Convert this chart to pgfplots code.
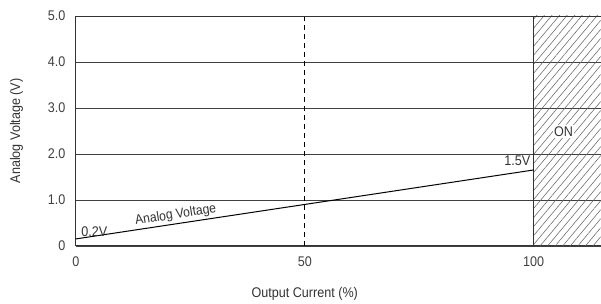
\documentclass[border=0pt]{standalone}
\usepackage{pgfplots}
\pgfplotsset{compat=1.18}
\usepackage{fontspec}
\setmainfont{Liberation Sans}[FakeStretch=0.9]
\usetikzlibrary{patterns.meta}
\begin{document}
\begin{tikzpicture}
\begin{axis}[
  name=ax,
  scale only axis,
  width=525pt, height=230pt,
  xmin=0, xmax=114.6, ymin=0, ymax=5,
  axis x line=bottom, axis y line=left,
  axis line style={-, black!80, line width=0.9pt},
  xtick={0,50,100}, ytick={0,1,2,3,4,5},
  yticklabels={0,1.0,2.0,3.0,4.0,5.0},
  major tick length=0pt,
  ymajorgrids, grid style={black!75, line width=0.6pt},
  tick label style={font=\fontsize{14}{16}\selectfont, text=black!75},
  xticklabel style={yshift=-7pt},
  yticklabel style={xshift=-7pt},
  /pgf/number format/assume math mode=true,
  xlabel={Output Current (\%)},
  ylabel={Analog Voltage (V)},
  label style={font=\fontsize{14}{16}\selectfont, text=black!80},
  xlabel style={yshift=-14pt, xshift=-33.5pt},
  ylabel style={yshift=18pt},
  clip=false,
]
\addplot[draw=none, pattern={Lines[angle=50, distance=5.8pt, line width=0.55pt]}, pattern color=black!60] coordinates {(100,0) (114.6,0) (114.6,5) (100,5)} -- cycle;
\addplot[black!80, line width=0.8pt] coordinates {(100,0) (100,5)};
\addplot[black, line width=0.9pt, dash pattern=on 5pt off 4pt] coordinates {(50,0) (50,5)};
\addplot[black, line width=1pt] coordinates {(0,0.15) (100,1.65)};
\addplot[black!80, line width=0.8pt] coordinates {(0,5) (114.6,5)};
\node[font=\fontsize{14}{16}\selectfont, text=black!80, anchor=center, inner sep=1pt] at (axis cs:4,0.3) {0.2V};
\node[font=\fontsize{13.5}{15}\selectfont, text=black!80, rotate=9, anchor=center, inner sep=1pt] at (axis cs:21.8,0.67) {Analog Voltage};
\node[font=\fontsize{14}{16}\selectfont, text=black!80, anchor=south east, inner sep=1pt] at (axis cs:99.5,1.72) {1.5V};
\node[font=\fontsize{14}{16}\selectfont, text=black!80, fill=white, inner sep=1.5pt] at (axis cs:106.5,2.48) {ON};
\end{axis}
\useasboundingbox ([xshift=-76pt, yshift=-54pt]ax.south west) rectangle ([yshift=16pt]ax.north east);
\end{tikzpicture}
\end{document}
